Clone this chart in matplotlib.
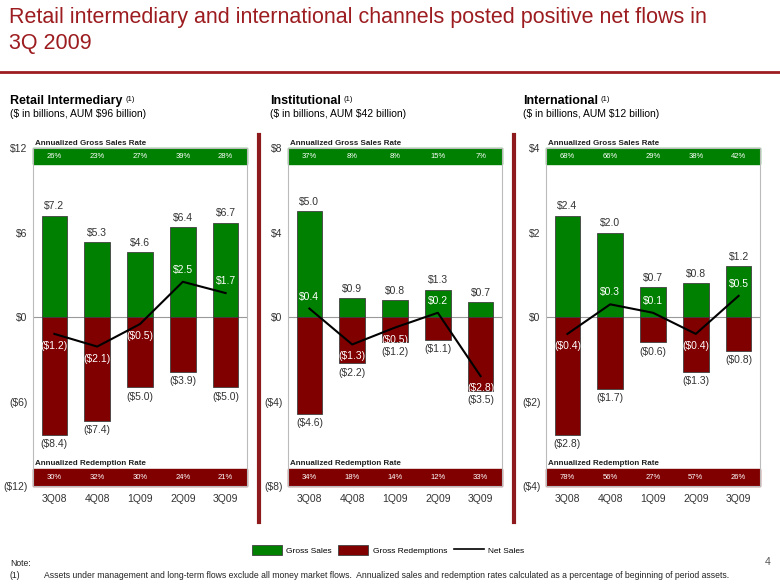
import numpy as np
import matplotlib
matplotlib.use('Agg')
import matplotlib.pyplot as plt
from matplotlib.patches import Patch, Rectangle
from matplotlib.lines import Line2D
import matplotlib.transforms as mtransforms

# data
quarters = ['3Q08', '4Q08', '1Q09', '2Q09', '3Q09']

retail_gross = [7.2, 5.3, 4.6, 6.4, 6.7]
retail_redemp = [-8.4, -7.4, -5.0, -3.9, -5.0]
retail_net = [-1.2, -2.1, -0.5, 2.5, 1.7]
retail_sales_rate = ['26%', '23%', '27%', '39%', '28%']
retail_redemp_rate = ['30%', '32%', '30%', '24%', '21%']

inst_gross = [5.0, 0.9, 0.8, 1.3, 0.7]
inst_redemp = [-4.6, -2.2, -1.2, -1.1, -3.5]
inst_net = [0.4, -1.3, -0.5, 0.2, -2.8]
inst_sales_rate = ['37%', '8%', '8%', '15%', '7%']
inst_redemp_rate = ['34%', '18%', '14%', '12%', '33%']

intl_gross = [2.4, 2.0, 0.7, 0.8, 1.2]
intl_redemp = [-2.8, -1.7, -0.6, -1.3, -0.8]
intl_net = [-0.4, 0.3, 0.1, -0.4, 0.5]
intl_sales_rate = ['68%', '66%', '29%', '38%', '42%']
intl_redemp_rate = ['78%', '56%', '27%', '57%', '26%']

GREEN = '#008000'
DRED = '#800000'
TRED = '#9C1C20'
TXT = '#333333'

plt.rcParams['font.family'] = ['Liberation Sans', 'DejaVu Sans']
plt.rcParams['text.parse_math'] = False

W, H = 780, 585
fig = plt.figure(figsize=(7.8, 5.85), dpi=100)


def fx(px):
    return px / W


def fy(py):
    return 1 - py / H


def money(v):
    return '$%.1f' % v if v >= 0 else '($%.1f)' % abs(v)


def tick_money(v):
    return '$%d' % v if v >= 0 else '($%d)' % abs(v)


# title
fig.text(fx(9), fy(7), 'Retail intermediary and international channels posted positive net flows in\n3Q 2009',
         color=TRED, fontsize=15.5, va='top', ha='left', linespacing=1.3)
fig.add_artist(Line2D([0, 1], [fy(72), fy(72)], color=TRED, lw=2, transform=fig.transFigure))

# separators
for xp in [259, 514]:
    fig.add_artist(Line2D([fx(xp), fx(xp)], [fy(135), fy(522)], color='#8E1A1E', lw=3,
                          transform=fig.transFigure))

panels = [
    ('Retail Intermediary', '($ in billions, AUM $96 billion)', 10, 33, 12,
     retail_gross, retail_redemp, retail_net, retail_sales_rate, retail_redemp_rate),
    ('Institutional', '($ in billions, AUM $42 billion)', 270, 288, 8,
     inst_gross, inst_redemp, inst_net, inst_sales_rate, inst_redemp_rate),
    ('International', '($ in billions, AUM $12 billion)', 523, 546, 4,
     intl_gross, intl_redemp, intl_net, intl_sales_rate, intl_redemp_rate),
]

ax_top, ax_bot = 148, 486
band_frac_top = 16 / (ax_bot - ax_top)
band_frac_bot = 17 / (ax_bot - ax_top)

for title, sub, hx, axx, lim, gross, redemp, net, srate, rrate in panels:
    ax = fig.add_axes([fx(axx), fy(ax_bot), fx(214), (ax_bot - ax_top) / H])
    x = np.arange(len(quarters))
    ax.bar(x, gross, width=0.6, color=GREEN, edgecolor='#404040', linewidth=0.6, zorder=2)
    ax.bar(x, redemp, width=0.6, color=DRED, edgecolor='#404040', linewidth=0.6, zorder=2)
    ax.plot(x, net, color='black', lw=1.5, zorder=3)
    ax.axhline(0, color='#999999', lw=0.8, zorder=1)

    ax.set_xlim(-0.5, len(quarters) - 0.5)
    ax.set_ylim(-lim, lim)
    yt = np.linspace(-lim, lim, 5)
    ax.set_yticks(yt)
    ax.set_yticklabels([tick_money(v) for v in yt], fontsize=7.5, color=TXT)
    ax.tick_params(axis='y', length=0, pad=4)
    ax.set_xticks([])
    for s in ax.spines.values():
        s.set_color('#BBBBBB')
        s.set_linewidth(0.8)

    bt = mtransforms.blended_transform_factory(ax.transData, ax.transAxes)
    for xi, q in enumerate(quarters):
        ax.text(xi, -0.025, q, transform=bt, ha='center', va='top', fontsize=7.5, color=TXT)

    # value labels
    for xi, v in enumerate(gross):
        ax.annotate(money(v), (xi, v), xytext=(0, 3), textcoords='offset points',
                    ha='center', va='bottom', fontsize=7.5, color=TXT)
    for xi, v in enumerate(redemp):
        ax.annotate(money(v), (xi, v), xytext=(0, -3), textcoords='offset points',
                    ha='center', va='top', fontsize=7.5, color=TXT)
    for xi, v in enumerate(net):
        off = 5 if v > 0 else -5
        ax.annotate(money(v), (xi, v), xytext=(0, off), textcoords='offset points',
                    ha='center', va='bottom' if v > 0 else 'top', fontsize=7.5, color='white', zorder=4)

    # rate bands
    ax.add_patch(Rectangle((0, 1 - band_frac_top), 1, band_frac_top, transform=ax.transAxes,
                           color=GREEN, zorder=1, clip_on=False))
    ax.add_patch(Rectangle((0, 0), 1, band_frac_bot, transform=ax.transAxes,
                           color=DRED, zorder=1, clip_on=False))
    for xi, r in enumerate(srate):
        ax.text(xi, 1 - band_frac_top / 2, r, transform=bt, ha='center', va='center',
                fontsize=5.5, color='white')
    for xi, r in enumerate(rrate):
        ax.text(xi, band_frac_bot / 2, r, transform=bt, ha='center', va='center',
                fontsize=5.5, color='white')
    ax.text(0.01, 1.002, 'Annualized Gross Sales Rate', transform=ax.transAxes, ha='left', va='bottom',
            fontsize=5.8, fontweight='bold', color='#222222')
    ax.text(0.01, band_frac_bot + 0.006, 'Annualized Redemption Rate', transform=ax.transAxes,
            ha='left', va='bottom', fontsize=5.8, fontweight='bold', color='#222222')

    # headers
    t = fig.text(fx(hx), fy(104), title, fontsize=9, fontweight='bold',
                 color='black', ha='left', va='baseline')
    ax.annotate('(1)', xy=(1, 1), xycoords=t, xytext=(2, -1), textcoords='offset points',
                fontsize=5.5, ha='left', va='top', annotation_clip=False)
    fig.text(fx(hx), fy(114), sub, fontsize=7.5, color='black', ha='left', va='center')

# legend
handles = [Patch(facecolor=GREEN, edgecolor='#404040', linewidth=0.6),
           Patch(facecolor=DRED, edgecolor='#404040', linewidth=0.6),
           Line2D([0], [0], color='black', lw=1.2)]
fig.legend(handles, ['Gross Sales', 'Gross Redemptions', 'Net Sales'], loc='center',
           bbox_to_anchor=(fx(388), fy(550)), ncol=3, frameon=False,
           prop={'size': 6}, handlelength=3.6, handleheight=1.4,
           columnspacing=0.8, handletextpad=0.5)

# notes
fig.text(fx(10), fy(563), 'Note:', fontsize=6.2, color='#222222', va='center')
fig.text(fx(10), fy(575), '(1)', fontsize=6.2, color='#222222', va='center')
fig.text(fx(44), fy(575), 'Assets under management and long-term flows exclude all money market flows.  '
         'Annualized sales and redemption rates calculated as a percentage of beginning of period assets.',
         fontsize=6.2, color='#222222', va='center')
fig.text(fx(768), fy(562), '4', fontsize=7.5, color='#555555', va='center', ha='center')

plt.savefig('out.png', dpi=100)
